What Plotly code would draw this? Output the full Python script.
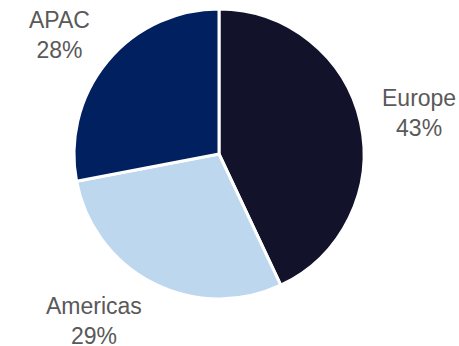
import math
import plotly.graph_objects as go

regions = ["Europe", "Americas", "APAC"]
shares = [43, 29, 28]
colors = ["#12122a", "#bdd7ee", "#002060"]

W, H = 459, 346

# pie geometry in pixels (centre and radius)
cx, cy, R = 219, 154, 145
label_dist = 1.14 * R
label_half_h = 22
label_font = dict(family="Liberation Sans, Arial, sans-serif", size=23, color="#595959")

fig = go.Figure(
    go.Pie(
        labels=regions,
        values=shares,
        sort=False,
        direction="clockwise",
        rotation=0,
        marker=dict(colors=colors, line=dict(color="white", width=3)),
        textinfo="none",
        domain=dict(x=[(cx - R) / W, (cx + R) / W], y=[(H - cy - R) / H, (H - cy + R) / H]),
        showlegend=False,
        hoverinfo="label+percent",
    )
)

# outside labels placed along each slice's mid-angle (clockwise from 12 o'clock)
total = sum(shares)
start = 0.0
for name, v in zip(regions, shares):
    frac = v / total
    mid = (start + frac / 2) * 2 * math.pi
    start += frac
    sx, sy = math.sin(mid), -math.cos(mid)
    px = cx + sx * label_dist
    py = cy + sy * label_dist + sy * label_half_h
    fig.add_annotation(
        x=px / W,
        y=1 - py / H,
        xref="paper",
        yref="paper",
        text=f"{name}<br>{round(frac * 100)}%",
        showarrow=False,
        xanchor="left" if sx > 0 else "right",
        yanchor="middle",
        align="center",
        font=label_font,
    )

fig.update_layout(
    width=W,
    height=H,
    margin=dict(l=0, r=0, t=0, b=0),
    paper_bgcolor="white",
    plot_bgcolor="white",
)

fig.write_html("out.html")
